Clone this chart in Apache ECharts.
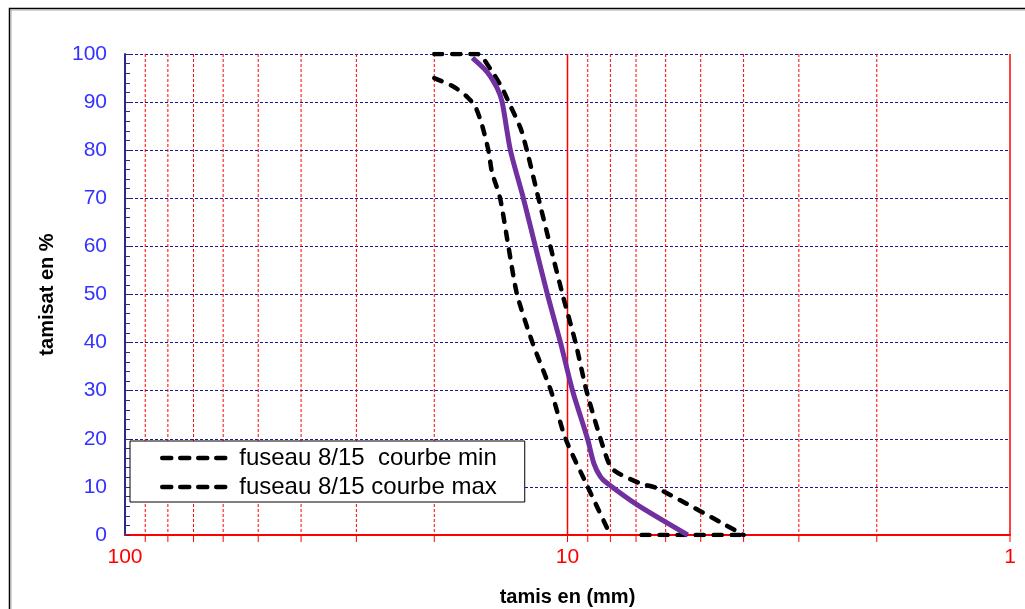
<!DOCTYPE html>
<html>
<head>
<meta charset="utf-8">
<script src="https://cdn.jsdelivr.net/npm/echarts@6/dist/echarts.min.js"></script>
<style>
  html, body { margin: 0; padding: 0; background: #fff; }
  #chart { width: 1025px; height: 609px; }
</style>
</head>
<body>
<div id="chart"></div>
<script>
// tamis (mm) / tamisat (%)
const minSize = [20, 18.08, 16.86, 16.15, 15.6, 15.07, 14.82, 14.2, 13.6, 13.0, 12.0, 10.9, 10.1, 9.0, 8.0];
const minPass = [95, 93.2, 91.1, 89, 85.2, 79.7, 75.5, 70, 60, 50, 40, 30, 20, 10, 0];
const minTailSize = [6.8, 4.0];
const minTailPass = [0, 0];

const maxSize = [20, 16, 14.8, 14.05, 13.58, 12.77, 12.34, 11.63, 10.93, 10.26, 9.59, 9.06, 8.42, 8.0, 7.66, 6.84, 6.26, 4.0];
const maxPass = [100, 100, 96.3, 92.9, 90, 84.6, 79.8, 70, 60, 50, 40, 30, 20, 14.2, 12.8, 10.7, 9.7, 0];

const sampleSize = [16.4, 15.2, 14.42, 14.05, 13.46, 12.58, 11.82, 11.1, 10.37, 9.74, 9.01, 8.72, 8.42, 8.12, 6.94, 5.35];
const samplePass = [99.2, 96.3, 92.9, 90, 80, 70, 60, 50, 40, 30, 20, 14.9, 12.1, 10.7, 6.2, 0];

// vertical grid of the log axis: decades solid, the rest dotted
const decadeSieves = [1, 10];
const minorSieves = [2, 3, 4, 5, 6, 7, 8, 9, 20, 30, 40, 50, 60, 70, 80, 90];

const minName = 'fuseau 8/15  courbe min';
const maxName = 'fuseau 8/15 courbe max';

const zip = (xs, ys) => xs.map((x, i) => [x, ys[i]]);
const font = 'Arial, "Liberation Sans", sans-serif';

const minData = zip(minSize, minPass).concat([['-', '-']], zip(minTailSize, minTailPass));

const dashStyle = { color: '#000', width: 4.5, type: [8, 10], cap: 'round' };

const chart = echarts.init(document.getElementById('chart'));
chart.setOption({
  animation: false,
  textStyle: { fontFamily: font },
  grid: { left: 125, right: 15, top: 54, bottom: 74, outerBoundsMode: 'none' },
  graphic: [
    { type: 'rect', shape: { x: 9.5, y: 8.5, width: 1040, height: 640 },
      style: { fill: 'none', stroke: '#000', lineWidth: 1.5 }, silent: true },
    { type: 'rect', shape: { x: 11, y: 10, width: 1040, height: 640 },
      style: { fill: 'none', stroke: '#aaa', lineWidth: 1 }, silent: true }
  ],
  legend: {
    data: [minName, maxName],
    orient: 'vertical',
    left: 130,
    top: 441,
    padding: [5, 28, 3, 30],
    itemGap: 5,
    itemWidth: 72,
    itemHeight: 14,
    backgroundColor: '#fff',
    borderColor: '#000',
    borderWidth: 1,
    itemStyle: { color: 'transparent', borderWidth: 0, opacity: 0 },
    lineStyle: { color: '#000', width: 4.5, type: [9, 9], cap: 'round' },
    textStyle: { fontFamily: font, fontSize: 24, color: '#000' }
  },
  xAxis: {
    type: 'log',
    logBase: 10,
    min: 1,
    max: 100,
    inverse: true,
    name: 'tamis en (mm)',
    nameLocation: 'middle',
    nameGap: 52,
    nameTextStyle: { fontFamily: font, fontSize: 20, fontWeight: 'bold', color: '#000' },
    axisLine: { show: true, onZero: false, lineStyle: { color: '#ff0000', width: 2 } },
    axisTick: { show: false },
    axisLabel: { color: '#ff0000', fontSize: 21, fontFamily: font, margin: 12 },
    splitLine: { show: false }
  },
  yAxis: {
    type: 'value',
    min: 0,
    max: 100,
    interval: 10,
    name: 'tamisat en %',
    nameLocation: 'middle',
    nameGap: 68,
    nameTextStyle: { fontFamily: font, fontSize: 20, fontWeight: 'bold', color: '#000' },
    axisLine: { show: true, lineStyle: { color: '#2b2b8f', width: 2 } },
    axisTick: { show: true, inside: true, length: 5, lineStyle: { color: '#2b2b8f' } },
    minorTick: { show: true, splitNumber: 5, length: 5, lineStyle: { color: '#2b2b8f', width: 1 } },
    axisLabel: { color: '#3333ff', fontSize: 21, fontFamily: font, margin: 18 },
    splitLine: { show: true, showMinLine: false, lineStyle: { color: '#1a1a8c', width: 1, type: [3, 2] } }
  },
  series: [
    {
      type: 'custom',
      silent: true,
      clip: false,
      z: 1,
      data: minorSieves.map(v => [v, 0]).concat(decadeSieves.map(v => [v, 1])),
      encode: { x: 0, y: 1 },
      renderItem: function (params, api) {
        const v = api.value(0);
        const solid = api.value(1) === 1;
        const top = api.coord([v, 100]);
        const bot = api.coord([v, 0]);
        return {
          type: 'group',
          children: [
            { type: 'line', shape: { x1: top[0], y1: top[1], x2: bot[0], y2: bot[1] },
              style: { stroke: '#ff0000', lineWidth: solid ? 1.5 : 1, lineDash: solid ? null : [3, 2] } },
            { type: 'line', shape: { x1: bot[0], y1: bot[1], x2: bot[0], y2: bot[1] + 7 },
              style: { stroke: '#ff0000', lineWidth: 1 } }
          ]
        };
      }
    },
    {
      name: minName,
      type: 'line',
      data: minData,
      symbol: 'none',
      smooth: 0.25,
      connectNulls: false,
      lineStyle: dashStyle,
      itemStyle: { color: '#000' },
      z: 3
    },
    {
      name: maxName,
      type: 'line',
      data: zip(maxSize, maxPass),
      symbol: 'none',
      smooth: 0.25,
      lineStyle: dashStyle,
      itemStyle: { color: '#000' },
      z: 3
    },
    {
      name: 'échantillon',
      type: 'line',
      data: zip(sampleSize, samplePass),
      symbol: 'none',
      smooth: 0.25,
      lineStyle: { color: '#7030a0', width: 5 },
      itemStyle: { color: '#7030a0' },
      z: 4
    }
  ]
});
</script>
</body>
</html>
